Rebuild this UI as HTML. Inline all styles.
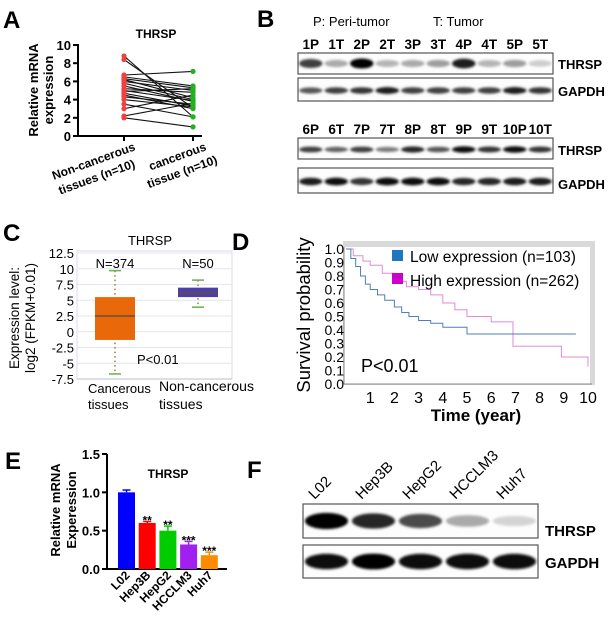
<!DOCTYPE html>
<html><head><meta charset="utf-8"><style>
html,body{margin:0;padding:0;background:#fff;}
svg{display:block;font-family:"Liberation Sans",Arial,sans-serif;}
</style></head><body>
<svg id="fig" width="611" height="625" viewBox="0 0 611 625">
<defs>
<filter id="blur" x="-30%" y="-100%" width="160%" height="300%"><feGaussianBlur stdDeviation="1.3"/></filter>
</defs>
<g font-weight="bold" font-size="24" fill="#000">
<text x="3" y="28">A</text>
<text x="257" y="27">B</text>
<text x="3" y="241">C</text>
<text x="232" y="250">D</text>
<text x="5" y="469">E</text>
<text x="247" y="478">F</text>
</g>
<g id="panelA"></g>
<g id="panelB"></g>
<g id="panelC"></g>
<g id="panelD"></g>
<g id="panelE"></g>
<g id="panelF"></g>
</svg>
<script>
const aNormal = [8.8,8.4,6.7,6.5,6.3,6.0,5.8,5.5,5.2,4.9,4.7,4.5,4.3,3.5,3.0,2.2,2.0,6.2,5.0,4.0];
const aTumor  = [2.1,3.1,7.1,5.5,5.3,5.0,4.0,3.8,4.8,5.2,3.3,3.0,3.5,2.1,4.5,3.6,1.0,4.2,3.9,3.2];
const aTicks = [0,2,4,6,8,10];
const cGroups = ['Cancerous','Non-cancerous'];
const cQ1 = [-1.3,5.5], cMed=[2.5,6.2], cQ3=[5.5,7.0], cMin=[-6.7,3.9], cMax=[9.7,8.2];
const cN = ['N=374','N=50'];
const cTicks = [-7.5,-5,-2.5,0,2.5,5,7.5,10,12.5];
const dLowT = [0,0.2,0.4,0.6,0.8,1,1.3,1.6,2,2.3,2.6,3,3.5,4,5,6,7,8,9.5];
const dLowS = [1,0.93,0.87,0.8,0.74,0.7,0.66,0.62,0.57,0.53,0.5,0.47,0.45,0.42,0.37,0.37,0.37,0.37,0.37];
const dHighT = [0,0.3,0.7,1,1.5,2,2.5,3,3.5,4,4.5,5,5.7,6,6.7,6.9,7.8,8.9,10];
const dHighS = [1,0.95,0.91,0.88,0.82,0.76,0.72,0.7,0.66,0.6,0.55,0.5,0.5,0.46,0.46,0.28,0.28,0.2,0.13];
const dYTicks = [0,0.1,0.2,0.3,0.4,0.5,0.6,0.7,0.8,0.9,1.0];
const dXTicks = [1,2,3,4,5,6,7,8,9,10];
const eCats = ['L02','Hep3B','HepG2','HCCLM3','Huh7'];
const eVals = [1.0,0.6,0.5,0.32,0.18];
const eErr  = [0.03,0.02,0.06,0.04,0.04];
const eStars = ['','**','**','***','***'];
const eColors = ['#0000ff','#ff0000','#00cc00','#a020f0','#ff8c00'];
const eTicks = [0,0.5,1.0,1.5];
const bLanes1 = ['1P','1T','2P','2T','3P','3T','4P','4T','5P','5T'];
const bThrsp1 = [0.75,0.3,1.0,0.25,0.3,0.35,0.9,0.25,0.35,0.15];
const bGapdh1 = [0.65,0.75,0.8,0.9,0.75,0.75,0.75,0.75,0.9,0.8];
const bLanes2 = ['6P','6T','7P','7T','8P','8T','9P','9T','10P','10T'];
const bThrsp2 = [0.75,0.6,0.75,0.5,0.85,0.65,0.95,0.8,0.95,0.8];
const bGapdh2 = [0.9,0.95,0.8,0.95,0.95,0.95,0.85,0.85,0.9,0.9];
const fLanes = ['L02','Hep3B','HepG2','HCCLM3','Huh7'];
const fThrsp = [1.0,0.85,0.7,0.3,0.12];
const fGapdh = [0.95,1.0,0.95,0.95,0.95];

const NS='http://www.w3.org/2000/svg';
function mk(parent,tag,attrs,text){const e=document.createElementNS(NS,tag);for(const k in attrs)e.setAttribute(k,attrs[k]);if(text!==undefined)e.textContent=text;parent.appendChild(e);return e;}

(function(){
const g=document.getElementById('panelA');
const y=v=>136-v*9.1, xN=124, xT=193;
let e=mk(g,'line',{x1:78,y1:44,x2:78,y2:136,stroke:'#000','stroke-width':2});

e=mk(g,'line',{x1:77,y1:136,x2:202,y2:136,stroke:'#000','stroke-width':2});

aTicks.forEach(t=>{mk(g,'line',{x1:73,y1:y(t),x2:78,y2:y(t),stroke:'#000','stroke-width':2});
 e=mk(g,'text',{x:71,y:y(t)+5,'text-anchor':'end','font-size':13,'font-weight':'bold'},t);
 });
[xN,xT].forEach(x=>mk(g,'line',{x1:x,y1:136,x2:x,y2:141,stroke:'#000','stroke-width':2}));
aNormal.forEach((v,i)=>{e=mk(g,'line',{x1:xN,y1:y(v),x2:xT,y2:y(aTumor[i]),stroke:'#111','stroke-width':1.1});
 });
aNormal.forEach(v=>{e=mk(g,'circle',{cx:xN,cy:y(v),r:2.6,fill:'#f04040'});
 });
aTumor.forEach(v=>{e=mk(g,'circle',{cx:xT,cy:y(v),r:2.6,fill:'#20b020'});
 });
e=mk(g,'text',{x:156,y:38,'text-anchor':'middle','font-size':12,'font-weight':'bold'},'THRSP');

const yl=mk(g,'text',{transform:'translate(0,90) rotate(-90)','text-anchor':'middle','font-size':13,'font-weight':'bold'});

mk(yl,'tspan',{x:0,y:38},'Relative mRNA');mk(yl,'tspan',{x:0,y:53},'expression');
e=mk(g,'text',{transform:'translate(136,150) rotate(-20)','text-anchor':'end','font-size':12,'font-weight':'bold'});

mk(e,'tspan',{x:0,y:0},'Non-cancerous');mk(e,'tspan',{x:-6,y:16},'tissues (n=10)');
e=mk(g,'text',{transform:'translate(207,150) rotate(-20)','text-anchor':'end','font-size':12,'font-weight':'bold'});

mk(e,'tspan',{x:0,y:0},'cancerous');mk(e,'tspan',{x:6,y:16},'tissue (n=10)');
})();

function blot(g,x0,x1,y0,y1,vals,name,thin){
 let b=mk(g,'rect',{x:x0,y:y0,width:x1-x0,height:y1-y0,fill:'#fdfdfd',stroke:'#555','stroke-width':1.2});
 
 const n=vals.length,w=(x1-x0)/n,cy=(y0+y1)/2+(thin?1:0);
 vals.forEach((v,i)=>{const c=Math.round(240-v*235);
  const el=mk(g,'ellipse',{cx:x0+w*(i+0.5),cy:cy,rx:w*0.46,ry:(y1-y0)*(thin?0.13:0.2)*(0.7+0.5*v),fill:`rgb(${c},${c},${c})`,filter:'url(#blur)'});
  });
}

(function(){
const g=document.getElementById('panelB');
let e=mk(g,'text',{x:313,y:26,'font-size':13},'P: Peri-tumor');
e=mk(g,'text',{x:433,y:26,'font-size':13},'T: Tumor');
const x0=298,x1=553,w=(x1-x0)/10;
bLanes1.forEach((l,i)=>{e=mk(g,'text',{x:x0+w*(i+0.5),y:49,'text-anchor':'middle','font-size':13.5,'font-weight':'600'},l);});
bLanes2.forEach((l,i)=>{e=mk(g,'text',{x:x0+w*(i+0.5),y:134,'text-anchor':'middle','font-size':13.5,'font-weight':'600'},l);});
blot(g,x0,x1,53,74,bThrsp1,'b-thrsp-blot-1');
blot(g,x0,x1,78,101,bGapdh1,'b-gapdh-blot-1',true);
blot(g,x0,x1,138,159,bThrsp2,'b-thrsp-blot-2',true);
blot(g,x0,x1,168,193,bGapdh2,'b-gapdh-blot-2',true);
[['THRSP',69],['GAPDH',96],['THRSP',155],['GAPDH',189]].forEach(([t,yy])=>{e=mk(g,'text',{x:558,y:yy,'font-size':13,'font-weight':'bold'},t);});
})();

(function(){
const g=document.getElementById('panelC');
const y=v=>253+(12.5-v)*6.3, X0=77, X1=232, cx=[115,198], bw=40;
let e=mk(g,'rect',{x:X0,y:y(12.5)-2,width:X1-X0,height:y(-7.5)-y(12.5)+2,fill:'#fff',stroke:'#d8dde8'});

cTicks.forEach(t=>{mk(g,'line',{x1:X0,y1:y(t),x2:X1,y2:y(t),stroke:'#e2e6ee'});
 e=mk(g,'text',{x:74,y:y(t)+5,'text-anchor':'end','font-size':13},t);});
mk(g,'line',{x1:X0,y1:y(-7.5),x2:X1,y2:y(-7.5),stroke:'#b8bfcc'});
const cols=['#e8680a','#4b3fa8'];
cGroups.forEach((gr,i)=>{
 e=mk(g,'line',{x1:cx[i],y1:y(cMax[i]),x2:cx[i],y2:y(cMin[i]),stroke:'#8b6a1a','stroke-dasharray':'1.5,3','stroke-width':1.3});
 
 [cMax[i],cMin[i]].forEach(v=>{e=mk(g,'line',{x1:cx[i]-6,y1:y(v),x2:cx[i]+6,y2:y(v),stroke:'#6ab04c','stroke-width':1.5});});
 e=mk(g,'rect',{x:cx[i]-bw/2,y:y(cQ3[i]),width:bw,height:y(cQ1[i])-y(cQ3[i]),fill:cols[i]});
 
 e=mk(g,'line',{x1:cx[i]-bw/2,y1:y(cMed[i]),x2:cx[i]+bw/2,y2:y(cMed[i]),stroke:'#6b4a3a','stroke-width':1.5});
 
 e=mk(g,'text',{x:cx[i],y:268,'text-anchor':'middle','font-size':13},cN[i]);
});
e=mk(g,'text',{x:150,y:245,'text-anchor':'middle','font-size':13},'THRSP');
e=mk(g,'text',{x:137,y:364,'font-size':13},'P<0.01');
e=mk(g,'text',{x:88,y:393,'font-size':13});
mk(e,'tspan',{x:88,y:393},'Cancerous');mk(e,'tspan',{x:88,y:409},'tissues');
e=mk(g,'text',{x:159,y:391,'font-size':14});
mk(e,'tspan',{x:159,y:391},'Non-cancerous');mk(e,'tspan',{x:159,y:409},'tissues');
e=mk(g,'text',{transform:'translate(0,318) rotate(-90)','text-anchor':'middle','font-size':13.5});
mk(e,'tspan',{x:0,y:19},'Expression level:');mk(e,'tspan',{x:0,y:35},'log2 (FPKM+0.01)');
})();

(function(){
const g=document.getElementById('panelD');
const x=t=>346+t*24.2, y=s=>384-s*135;
let e=mk(g,'rect',{x:343,y:241,width:252,height:144,fill:'#d9d9d9'});
mk(g,'rect',{x:344,y:247,width:246,height:137,fill:'#fff'});
mk(g,'line',{x1:344,y1:247,x2:344,y2:384,stroke:'#888'});
mk(g,'line',{x1:344,y1:384,x2:592,y2:384,stroke:'#888'});
dYTicks.forEach(t=>{e=mk(g,'text',{x:344,y:y(t)+5,'text-anchor':'end','font-size':14},t.toFixed(1));});
dXTicks.forEach(t=>{e=mk(g,'text',{x:x(t),y:403,'text-anchor':'middle','font-size':16},t);});
function step(T,S){let d=`M${x(T[0])},${y(S[0])}`;for(let i=1;i<T.length;i++){d+=` H${x(T[i])} V${y(S[i])}`;}return d;}
e=mk(g,'path',{d:step(dHighT,dHighS),fill:'none',stroke:'#e08ad8','stroke-width':1});
e=mk(g,'path',{d:step(dLowT,dLowS),fill:'none',stroke:'#4f7fb8','stroke-width':1});
e=mk(g,'rect',{x:392,y:250,width:11,height:11,fill:'#1f77c4'});
e=mk(g,'text',{x:410,y:262,'font-size':15.5},'Low expression (n=103)');
e=mk(g,'rect',{x:392,y:273,width:11,height:11,fill:'#cc00cc'});
e=mk(g,'text',{x:410,y:286,'font-size':15.5},'High expression (n=262)');
e=mk(g,'text',{x:361,y:372,'font-size':18},'P<0.01');
e=mk(g,'text',{x:476,y:421,'text-anchor':'middle','font-size':17,'font-weight':'bold'},'Time (year)');
e=mk(g,'text',{transform:'translate(310,315) rotate(-90)','text-anchor':'middle','font-size':18.5},'Survival probability');
})();

(function(){
const g=document.getElementById('panelE');
const y=v=>569-v*(115/1.5), x0=107, bw=17, sp=20.7;
let e=mk(g,'line',{x1:107,y1:454,x2:107,y2:570,stroke:'#000','stroke-width':2});
e=mk(g,'line',{x1:106,y1:569,x2:227,y2:569,stroke:'#000','stroke-width':2});
eTicks.forEach(t=>{mk(g,'line',{x1:102,y1:y(t),x2:107,y2:y(t),stroke:'#000','stroke-width':2});
 e=mk(g,'text',{x:100,y:y(t)+5,'text-anchor':'end','font-size':13,'font-weight':'bold'},t.toFixed(1));});
eCats.forEach((c,i)=>{
 const bx=118+i*sp, cx=bx+bw/2;
 e=mk(g,'rect',{x:bx,y:y(eVals[i]),width:bw,height:569-y(eVals[i]),fill:eColors[i]});
 
 mk(g,'line',{x1:cx,y1:y(eVals[i]),x2:cx,y2:y(eVals[i]+eErr[i]),stroke:eColors[i],'stroke-width':1.5});
 mk(g,'line',{x1:cx-4,y1:y(eVals[i]+eErr[i]),x2:cx+4,y2:y(eVals[i]+eErr[i]),stroke:eColors[i],'stroke-width':1.5});
 if(eStars[i]){e=mk(g,'text',{x:cx,y:y(eVals[i]+eErr[i])+3,'text-anchor':'middle','font-size':12,'font-weight':'bold'},eStars[i]);}
 e=mk(g,'text',{transform:`translate(${cx+4},${576}) rotate(-45)`,'text-anchor':'end','font-size':12,'font-weight':'bold'},c);
 
});
e=mk(g,'text',{x:168,y:478,'text-anchor':'middle','font-size':12,'font-weight':'bold'},'THRSP');
e=mk(g,'text',{transform:'translate(0,510) rotate(-90)','text-anchor':'middle','font-size':13,'font-weight':'bold'});
mk(e,'tspan',{x:0,y:60},'Relative mRNA');mk(e,'tspan',{x:0,y:76},'Experession');
})();

(function(){
const g=document.getElementById('panelF');
const x0=303,x1=538,w=(x1-x0)/5;
fLanes.forEach((l,i)=>{const e=mk(g,'text',{transform:`translate(${x0+w*(i+0.5)-12},${500}) rotate(-45)`,'font-size':15},l);
 });
blot(g,x0,x1,504,538,fThrsp,'f-thrsp-blot');
blot(g,x0,x1,545,578,fGapdh,'f-gapdh-blot');
let e=mk(g,'text',{x:545,y:536,'font-size':15,'font-weight':'bold'},'THRSP');
e=mk(g,'text',{x:545,y:568,'font-size':15,'font-weight':'bold'},'GAPDH');
})();
</script>
</body></html>
